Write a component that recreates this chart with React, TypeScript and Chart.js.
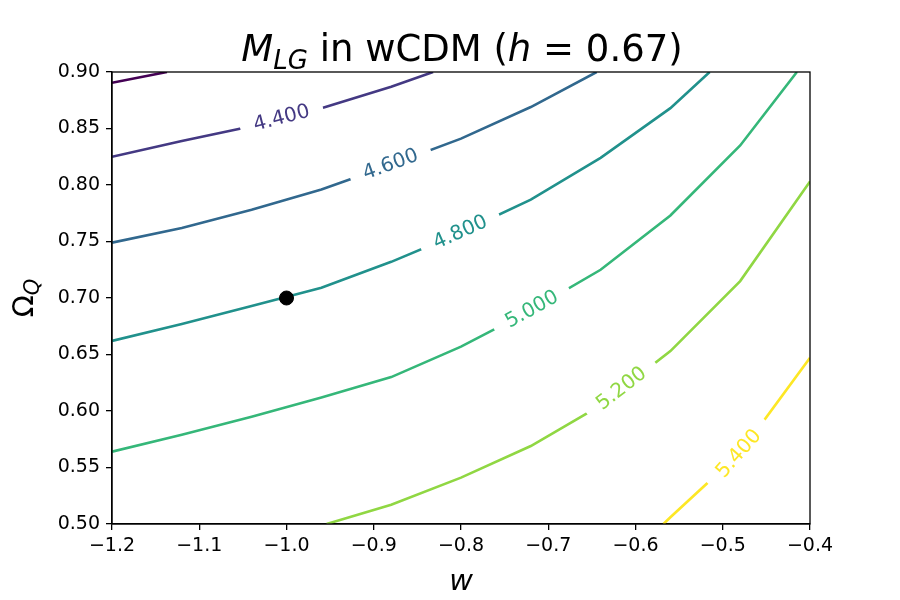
import React, { useEffect, useRef } from 'react';
import { Chart, registerables } from 'chart.js';

Chart.register(...registerables);

// ---- data ----
const levels = [4.2, 4.4, 4.6, 4.8, 5.0, 5.2, 5.4];
const levelColors = ['#440154', '#443983', '#31688e', '#21918c', '#35b779', '#90d743', '#fde725'];
const levelLabels = ['', '4.400', '4.600', '4.800', '5.000', '5.200', '5.400'];

const w42 = [-1.2, -1.137];
const om42 = [0.8905, 0.9];
const w44 = [-1.2, -1.12, -1.04, -0.96, -0.88, -0.832];
const om44 = [0.825, 0.839, 0.852, 0.868, 0.887, 0.9];
const w46 = [-1.2, -1.12, -1.04, -0.96, -0.88, -0.8, -0.72, -0.6445];
const om46 = [0.749, 0.762, 0.778, 0.796, 0.818, 0.841, 0.869, 0.9];
const w48 = [-1.2, -1.12, -1.04, -0.96, -0.88, -0.8, -0.72, -0.64, -0.56, -0.515];
const om48 = [0.662, 0.677, 0.693, 0.709, 0.732, 0.758, 0.787, 0.824, 0.868, 0.9];
const w50 = [-1.2, -1.12, -1.04, -0.96, -0.88, -0.8, -0.72, -0.64, -0.56, -0.48, -0.415];
const om50 = [0.564, 0.579, 0.595, 0.612, 0.63, 0.657, 0.689, 0.725, 0.773, 0.835, 0.9];
const w52 = [-0.954, -0.88, -0.8, -0.72, -0.64, -0.56, -0.48, -0.4];
const om52 = [0.5, 0.517, 0.541, 0.569, 0.605, 0.653, 0.715, 0.803];
const w54 = [-0.568, -0.56, -0.48, -0.4];
const om54 = [0.5, 0.506, 0.563, 0.647];

const contourW = [w42, w44, w46, w48, w50, w52, w54];
const contourOm = [om42, om44, om46, om48, om50, om52, om54];

// where along w each inline contour label sits
const labelAtW = [NaN, -1.0055, -0.8806, -0.8006, -0.7186, -0.6158, -0.4814];

const fiducialW = [-1.0];
const fiducialOm = [0.7];

const FONT = '"DejaVu Sans", "Liberation Sans", sans-serif';

function interpOm(ws: number[], oms: number[], w: number): number {
  for (let i = 0; i < ws.length - 1; i++) {
    if (w >= ws[i] && w <= ws[i + 1]) {
      const t = (w - ws[i]) / (ws[i + 1] - ws[i]);
      return oms[i] + t * (oms[i + 1] - oms[i]);
    }
  }
  return w < ws[0] ? oms[0] : oms[oms.length - 1];
}

function labelGeom(chart: any, i: number) {
  const xs = chart.scales.x;
  const ys = chart.scales.y;
  const w = labelAtW[i];
  const ws = contourW[i];
  const oms = contourOm[i];
  const px = xs.getPixelForValue(w);
  const py = ys.getPixelForValue(interpOm(ws, oms, w));
  const d = 0.025;
  const x1 = xs.getPixelForValue(w - d);
  const y1 = ys.getPixelForValue(interpOm(ws, oms, w - d));
  const x2 = xs.getPixelForValue(w + d);
  const y2 = ys.getPixelForValue(interpOm(ws, oms, w + d));
  const ang = Math.atan2(y2 - y1, x2 - x1);
  return { px, py, ang };
}

const LABEL_SIZE = 20;

const contourLabelPlugin = {
  id: 'contourLabels',
  beforeDatasetsDraw(chart: any) {
    const ctx = chart.ctx;
    const a = chart.chartArea;
    ctx.save();
    ctx.font = `${LABEL_SIZE}px ${FONT}`;
    ctx.beginPath();
    ctx.rect(a.left - 20, a.top - 20, a.right - a.left + 40, a.bottom - a.top + 40);
    for (let i = 0; i < levels.length; i++) {
      if (!levelLabels[i]) continue;
      const { px, py, ang } = labelGeom(chart, i);
      const tw = ctx.measureText(levelLabels[i]).width;
      const hw = tw / 2 + 14;
      const hh = 14;
      const c = Math.cos(ang), s = Math.sin(ang);
      const pts = [
        [-hw, -hh], [hw, -hh], [hw, hh], [-hw, hh],
      ].map(([u, v]) => [px + u * c - v * s, py + u * s + v * c]);
      ctx.moveTo(pts[0][0], pts[0][1]);
      for (let k = 1; k < 4; k++) ctx.lineTo(pts[k][0], pts[k][1]);
      ctx.closePath();
    }
    ctx.clip('evenodd');
  },
  afterDatasetsDraw(chart: any) {
    const ctx = chart.ctx;
    ctx.restore();
    ctx.save();
    ctx.font = `${LABEL_SIZE}px ${FONT}`;
    ctx.textAlign = 'center';
    ctx.textBaseline = 'middle';
    for (let i = 0; i < levels.length; i++) {
      if (!levelLabels[i]) continue;
      const { px, py, ang } = labelGeom(chart, i);
      ctx.save();
      ctx.translate(px, py);
      ctx.rotate(ang);
      ctx.fillStyle = levelColors[i];
      ctx.fillText(levelLabels[i], 0, 0);
      ctx.restore();
    }
    ctx.restore();
  },
  afterDraw(chart: any) {
    const ctx = chart.ctx;
    const a = chart.chartArea;
    ctx.save();
    // frame
    ctx.strokeStyle = '#000';
    ctx.lineWidth = 1.3;
    ctx.strokeRect(a.left, a.top, a.right - a.left, a.bottom - a.top);

    // title
    const TS = 37;
    const segs = [
      { t: 'M', f: `italic ${TS}px ${FONT}`, dy: 0 },
      { t: 'LG', f: `italic ${Math.round(TS * 0.7)}px ${FONT}`, dy: 8 },
      { t: ' in wCDM (', f: `${TS}px ${FONT}`, dy: 0 },
      { t: 'h', f: `italic ${TS}px ${FONT}`, dy: 0 },
      { t: ' = 0.67)', f: `${TS}px ${FONT}`, dy: 0 },
    ];
    let total = 0;
    const widths = segs.map((sg) => {
      ctx.font = sg.f;
      const w = ctx.measureText(sg.t).width;
      total += w;
      return w;
    });
    let x = (a.left + a.right) / 2 - total / 2 + 1;
    const base = 61;
    ctx.fillStyle = '#000';
    ctx.textBaseline = 'alphabetic';
    ctx.textAlign = 'left';
    segs.forEach((sg, k) => {
      ctx.font = sg.f;
      ctx.fillText(sg.t, x, base + sg.dy);
      x += widths[k];
    });

    // x label
    ctx.font = `italic 29px ${FONT}`;
    ctx.textAlign = 'center';
    ctx.fillText('w', (a.left + a.right) / 2, 590);

    // y label  Omega_Q
    ctx.save();
    ctx.translate(33, (a.top + a.bottom) / 2);
    ctx.rotate(-Math.PI / 2);
    ctx.textAlign = 'left';
    ctx.font = `29px ${FONT}`;
    const wO = ctx.measureText('\u03A9').width;
    ctx.font = `italic 21px ${FONT}`;
    const wQ = ctx.measureText('Q').width;
    const start = -(wO + wQ) / 2;
    ctx.font = `29px ${FONT}`;
    ctx.fillText('\u03A9', start, 0);
    ctx.font = `italic 21px ${FONT}`;
    ctx.fillText('Q', start + wO, 6);
    ctx.restore();

    ctx.restore();
  },
};

export default function App() {
  const ref = useRef<HTMLCanvasElement | null>(null);

  useEffect(() => {
    document.body.style.margin = '0';
    const canvas = ref.current;
    if (!canvas) return;

    const datasets: any[] = [
      {
        type: 'scatter',
        data: fiducialW.map((w, i) => ({ x: w, y: fiducialOm[i] })),
        backgroundColor: '#000',
        borderColor: '#000',
        pointRadius: 7,
        pointHoverRadius: 7,
        order: 0,
      },
    ];
    levels.forEach((lv, i) => {
      datasets.push({
        type: 'line',
        label: String(lv),
        data: contourW[i].map((w, k) => ({ x: w, y: contourOm[i][k] })),
        borderColor: levelColors[i],
        backgroundColor: levelColors[i],
        borderWidth: 2.6,
        pointRadius: 0,
        tension: 0,
        fill: false,
        order: 1,
      });
    });

    const tickFont = { family: FONT, size: 19 };

    const chart = new Chart(canvas, {
      type: 'scatter',
      data: { datasets },
      options: {
        animation: false,
        responsive: false,
        devicePixelRatio: 1,
        layout: { padding: { left: 0, right: 90, top: 72, bottom: 0 } },
        plugins: {
          legend: { display: false },
          tooltip: { enabled: false },
          title: { display: false },
        },
        scales: {
          x: {
            type: 'linear',
            min: -1.2,
            max: -0.4,
            ticks: {
              stepSize: 0.1,
              font: tickFont,
              color: '#000',
              padding: 5,
              maxRotation: 0,
              callback: (v: any) => Number(v).toFixed(1).replace('-', '\u2212'),
            },
            grid: {
              display: true,
              drawOnChartArea: false,
              drawTicks: true,
              tickLength: 6,
              tickColor: '#000',
              lineWidth: 1.3,
            },
            border: { display: true, color: '#000', width: 1.3 },
            afterFit: (s: any) => {
              s.height = 76;
            },
          },
          y: {
            type: 'linear',
            min: 0.5,
            max: 0.9,
            ticks: {
              stepSize: 0.05,
              font: tickFont,
              color: '#000',
              padding: 6,
              callback: (v: any) => Number(v).toFixed(2),
            },
            grid: {
              display: true,
              drawOnChartArea: false,
              drawTicks: true,
              tickLength: 6,
              tickColor: '#000',
              lineWidth: 1.3,
            },
            border: { display: true, color: '#000', width: 1.3 },
            afterFit: (s: any) => {
              s.width = 112;
            },
          },
        },
      },
      plugins: [contourLabelPlugin],
    });

    return () => {
      chart.destroy();
    };
  }, []);

  return (
    <div style={{ width: 900, height: 600, background: '#fff' }}>
      <canvas ref={ref} width={900} height={600} style={{ display: 'block' }} />
    </div>
  );
}
